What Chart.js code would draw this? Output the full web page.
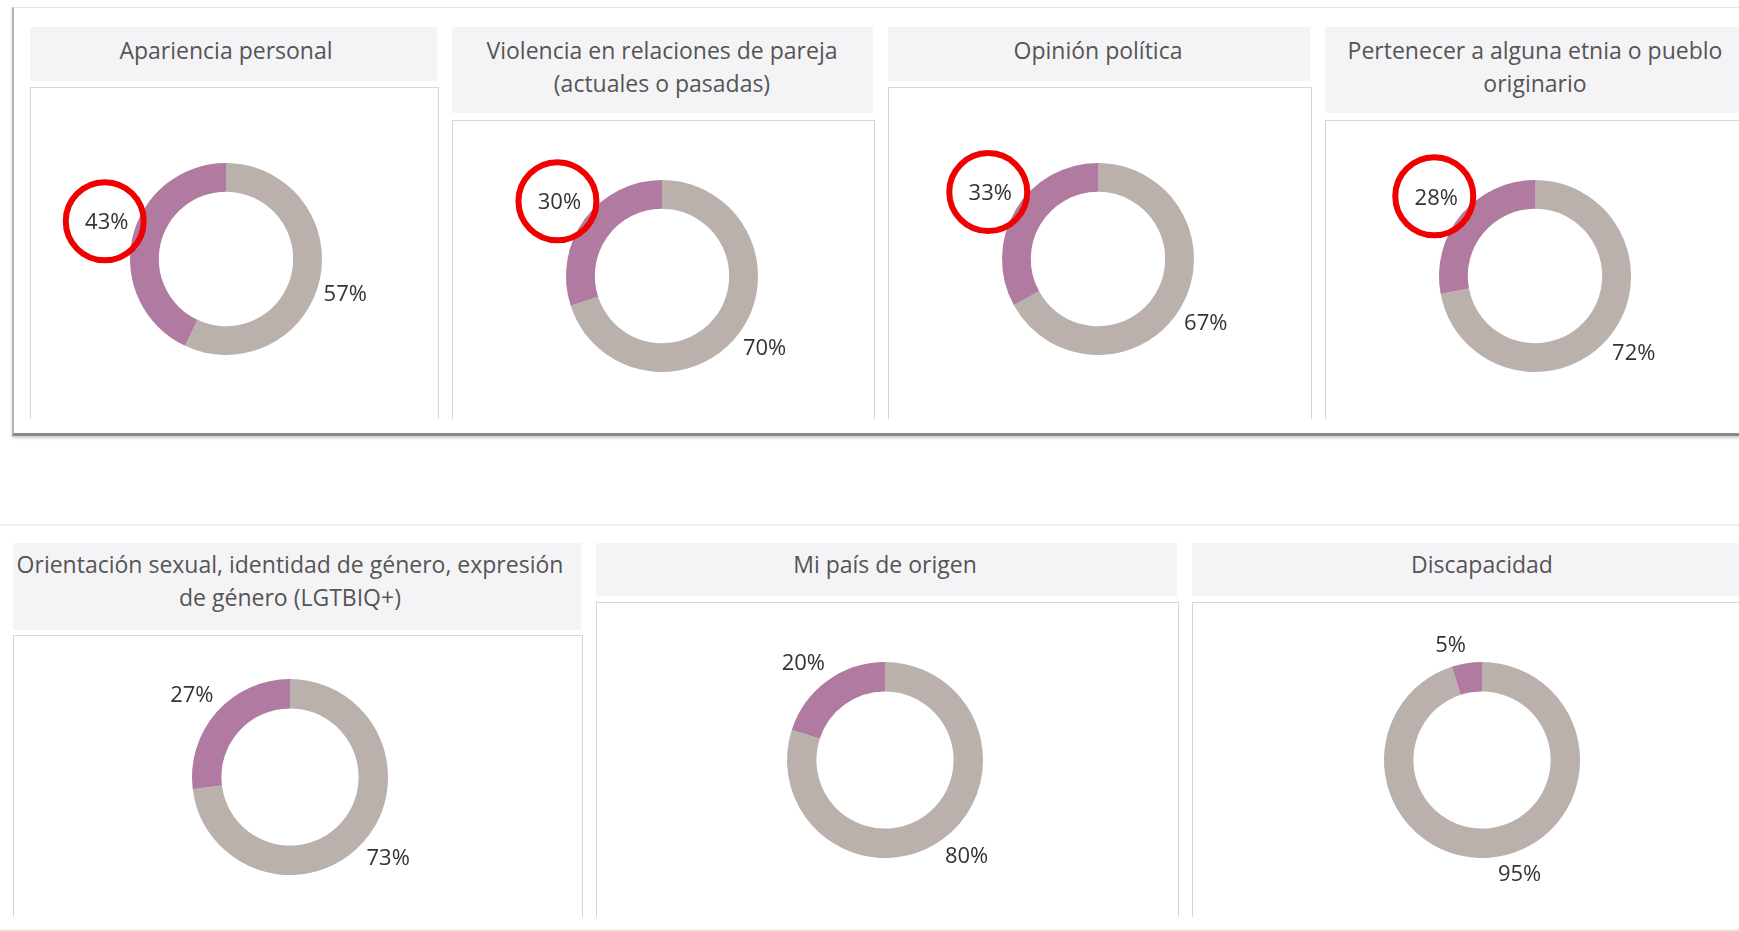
<!DOCTYPE html>
<html>
<head>
<meta charset="utf-8">
<script src="https://cdn.jsdelivr.net/npm/chart.js@4"></script>
<style>
  body{margin:0;width:1739px;height:931px;overflow:hidden;background:#fff;position:relative;font-family:"Open Sans",sans-serif}
  .frame{position:absolute;left:12px;top:7px;width:1740px;height:425px;border-left:2px solid #b4b4b4;border-top:1px solid #e6e6e6;border-bottom:3px solid #8a8a8a;box-shadow:0 2px 3px rgba(0,0,0,.2)}
  .sep{position:absolute;left:0;width:1739px;height:2px;background:#ededed}
  .head{position:absolute;background:#f4f4f6;overflow:hidden}
  .head span{position:absolute;height:100%;width:700px;display:flex;align-items:center;justify-content:center;text-align:center;white-space:pre-line;color:#555;font-size:23px;line-height:33px}
  .box{position:absolute;border:1px solid #d6d6d6;border-bottom:none}
  canvas{position:absolute}
</style>
</head>
<body>
<div class="frame"></div>
<div class="sep" style="top:524px"></div>
<div class="sep" style="top:929px"></div>
<script>
const categories = [
  'Apariencia personal',
  'Violencia en relaciones de pareja\n(actuales o pasadas)',
  'Opinión política',
  'Pertenecer a alguna etnia o pueblo\noriginario',
  'Orientación sexual, identidad de género, expresión\nde género (LGTBIQ+)',
  'Mi país de origen',
  'Discapacidad'
];
const siValues = [43, 30, 33, 28, 27, 20, 5];
const noValues = [57, 70, 67, 72, 73, 80, 95];
const circled = [true, true, true, true, false, false, false];

// panel geometry (header, box, donut centre and radius)
const layout = [
  {hx0:30,  hx1:437,  hy0:27,  hy1:81,  top:87,  bot:418, cx:226,  cy:259, r:96, ty:-4},
  {hx0:452, hx1:873,  hy0:27,  hy1:113, top:120, bot:418, cx:662,  cy:276, r:96, ty:-3},
  {hx0:888, hx1:1310, hy0:27,  hy1:81,  top:87,  bot:418, cx:1098, cy:259, r:96, ty:-4},
  {hx0:1325,hx1:1745, hy0:27,  hy1:113, top:120, bot:418, cx:1535, cy:276, r:96, ty:-3},
  {hx0:13,  hx1:581,  hy0:543, hy1:630, top:635, bot:916, cx:290,  cy:777, r:98, ty:-6},
  {hx0:596, hx1:1177, hy0:543, hy1:596, top:602, bot:916, cx:885,  cy:760, r:98, ty:-5},
  {hx0:1192,hx1:1745, hy0:543, hy1:596, top:602, bot:916, cx:1482, cy:760, r:98, ty:-5}
];
const S = 400;

const pctLabels = {
  id: 'pctLabels',
  afterDatasetsDraw(chart, args, opts) {
    const ctx = chart.ctx;
    const meta = chart.getDatasetMeta(0);
    ctx.save();
    ctx.font = '22px "Open Sans"';
    ctx.textAlign = 'center';
    ctx.textBaseline = 'middle';
    meta.data.forEach((arc, j) => {
      const p = arc.getProps(['x','y','startAngle','endAngle','outerRadius'], true);
      const mid = (p.startAngle + p.endAngle) / 2;
      const dx = Math.cos(mid), dy = Math.sin(mid);
      const txt = chart.data.datasets[0].data[j] + '%';
      const w = ctx.measureText(txt).width;
      const R = p.outerRadius + 4;
      const lx = p.x + dx * R + Math.sign(dx) * w / 2;
      const ly = p.y + dy * R + Math.sign(dy) * 14;
      ctx.fillStyle = '#333';
      ctx.fillText(txt, lx, ly);
      if (j === 1 && opts.ring) {
        ctx.beginPath();
        ctx.strokeStyle = '#f00000';
        ctx.lineWidth = 6;
        ctx.arc(lx - 2, ly - 2, 39, 0, Math.PI * 2);
        ctx.stroke();
      }
    });
    ctx.restore();
  }
};

layout.forEach((L, i) => {
  const head = document.createElement('div');
  head.className = 'head';
  Object.assign(head.style, {left: L.hx0 + 'px', top: L.hy0 + 'px', width: (L.hx1 - L.hx0) + 'px', height: (L.hy1 - L.hy0) + 'px'});
  const span = document.createElement('span');
  span.textContent = categories[i];
  span.style.left = (L.cx - L.hx0 - 350) + 'px';
  span.style.top = L.ty + 'px';
  head.appendChild(span);
  document.body.appendChild(head);

  const box = document.createElement('div');
  box.className = 'box';
  Object.assign(box.style, {left: L.hx0 + 'px', top: L.top + 'px', width: (L.hx1 - L.hx0) + 'px', height: (L.bot - L.top) + 'px'});
  document.body.appendChild(box);

  const cv = document.createElement('canvas');
  cv.width = S; cv.height = S;
  cv.style.left = (L.cx - S / 2) + 'px';
  cv.style.top = (L.cy - S / 2) + 'px';
  document.body.appendChild(cv);

  new Chart(cv, {
    type: 'doughnut',
    data: {
      labels: ['No', 'Sí'],
      datasets: [{
        data: [noValues[i], siValues[i]],
        backgroundColor: ['#bab0ac', '#b07aa1'],
        borderWidth: 0
      }]
    },
    options: {
      responsive: false,
      animation: false,
      cutout: '70%',
      layout: {padding: S / 2 - L.r},
      plugins: {
        legend: {display: false},
        tooltip: {enabled: false},
        pctLabels: {ring: circled[i]}
      }
    },
    plugins: [pctLabels]
  });
});
</script>
</body>
</html>
